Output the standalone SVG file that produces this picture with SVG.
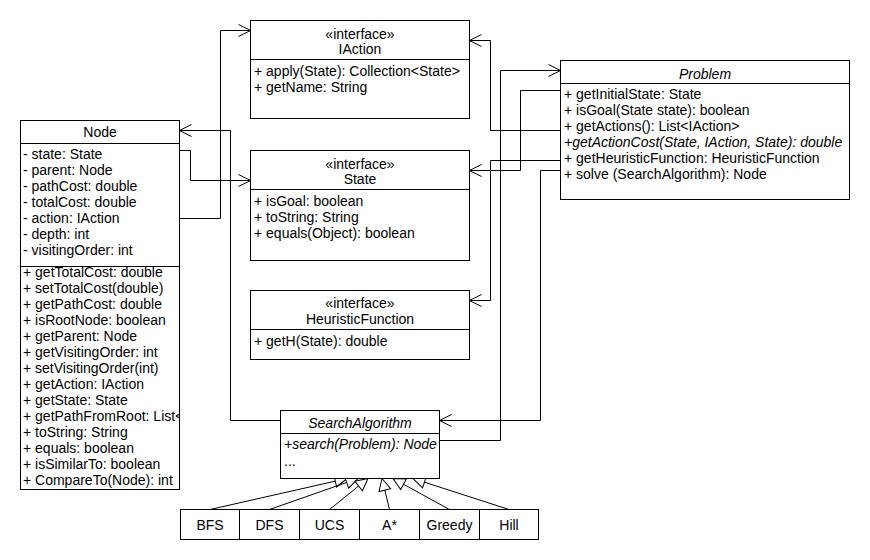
<svg xmlns="http://www.w3.org/2000/svg" width="870" height="560" viewBox="0 0 870 560">
<style>
text{font-family:"Liberation Sans",Arial,sans-serif;font-size:14px;fill:#000}
.c{text-anchor:middle}
.i{font-style:italic}
.box{fill:#fff;stroke:#000;stroke-width:1}
.ln{fill:none;stroke:#000;stroke-width:1}
</style>
<defs>
<marker id="open" viewBox="0 0 14 14" refX="13" refY="7" markerWidth="14" markerHeight="14" markerUnits="userSpaceOnUse" orient="auto"><path d="M1,1 L13,7 L1,13" fill="none" stroke="#000" stroke-width="1"/></marker>
<marker id="tri" viewBox="0 0 14 14" refX="13" refY="7" markerWidth="14" markerHeight="14" markerUnits="userSpaceOnUse" orient="auto"><path d="M1,1 L13,7 L1,13 Z" fill="#fff" stroke="#000" stroke-width="1"/></marker>
<clipPath id="nodeClip"><rect x="20" y="120" width="159" height="370"/></clipPath>
</defs>
<rect width="870" height="560" fill="#fff"/>

<g id="connectors">
<path class="ln" d="M179.5,218.5 H220.5 V30.5 H250.5" marker-end="url(#open)"/>
<path class="ln" d="M179.5,150.5 H190.5 V180.5 H250.5" marker-end="url(#open)"/>
<path class="ln" d="M280.5,420.5 H230.5 V130.5 H179.5" marker-end="url(#open)"/>
<path class="ln" d="M560.5,130.5 H490.5 V40.5 H469.5" marker-end="url(#open)"/>
<path class="ln" d="M560.5,90.5 H520.5 V170.5 H469.5" marker-end="url(#open)"/>
<path class="ln" d="M560.5,160.5 H490.5 V300.5 H469.5" marker-end="url(#open)"/>
<path class="ln" d="M560.5,170.5 H540.5 V420.5 H439.5" marker-end="url(#open)"/>
<path class="ln" d="M439.5,440.5 H500.5 V70.5 H560.5" marker-end="url(#open)"/>
<path class="ln" d="M210,509.5 L347,478.5" marker-end="url(#tri)"/>
<path class="ln" d="M269.5,509.5 L358,478.5" marker-end="url(#tri)"/>
<path class="ln" d="M329.5,509.5 L368,478.5" marker-end="url(#tri)"/>
<path class="ln" d="M389.5,509.5 L382,478.5" marker-end="url(#tri)"/>
<path class="ln" d="M449.5,509.5 L393,478.5" marker-end="url(#tri)"/>
<path class="ln" d="M509,509.5 L413,478.5" marker-end="url(#tri)"/>
</g>

<g id="node-Node">
<rect class="box" x="20.5" y="120.5" width="159" height="369"/>
<line class="ln" x1="20.5" y1="143.5" x2="179.5" y2="143.5"/>
<line class="ln" x1="20.5" y1="266.5" x2="179.5" y2="266.5"/>
<text class="c" x="100" y="136.5">Node</text>
<g clip-path="url(#nodeClip)">
<text x="23" y="159">- state: State</text>
<text x="23" y="175">- parent: Node</text>
<text x="23" y="191">- pathCost: double</text>
<text x="23" y="207">- totalCost: double</text>
<text x="23" y="223">- action: IAction</text>
<text x="23" y="239">- depth: int</text>
<text x="23" y="255">- visitingOrder: int</text>
<text x="23" y="277">+ getTotalCost: double</text>
<text x="23" y="293">+ setTotalCost(double)</text>
<text x="23" y="309">+ getPathCost: double</text>
<text x="23" y="325">+ isRootNode: boolean</text>
<text x="23" y="341">+ getParent: Node</text>
<text x="23" y="357">+ getVisitingOrder: int</text>
<text x="23" y="373">+ setVisitingOrder(int)</text>
<text x="23" y="389">+ getAction: IAction</text>
<text x="23" y="405">+ getState: State</text>
<text x="23" y="421">+ getPathFromRoot: List&lt;</text>
<text x="23" y="437">+ toString: String</text>
<text x="23" y="453">+ equals: boolean</text>
<text x="23" y="469">+ isSimilarTo: boolean</text>
<text x="23" y="485">+ CompareTo(Node): int</text>
</g>
</g>

<g id="node-IAction">
<rect class="box" x="250.5" y="20.5" width="219" height="98"/>
<line class="ln" x1="250.5" y1="59.5" x2="469.5" y2="59.5"/>
<text class="c" x="360" y="39">«interface»</text>
<text class="c" x="360" y="54">IAction</text>
<text x="254" y="76">+ apply(State): Collection&lt;State&gt;</text>
<text x="254" y="92">+ getName: String</text>
</g>

<g id="node-State">
<rect class="box" x="250.5" y="150.5" width="219" height="110"/>
<line class="ln" x1="250.5" y1="189.5" x2="469.5" y2="189.5"/>
<text class="c" x="360" y="169">«interface»</text>
<text class="c" x="360" y="184">State</text>
<text x="254" y="205.5">+ isGoal: boolean</text>
<text x="254" y="221.5">+ toString: String</text>
<text x="254" y="237.5">+ equals(Object): boolean</text>
</g>

<g id="node-HeuristicFunction">
<rect class="box" x="250.5" y="290.5" width="219" height="69"/>
<line class="ln" x1="250.5" y1="329.5" x2="469.5" y2="329.5"/>
<text class="c" x="360" y="308">«interface»</text>
<text class="c" x="360" y="324">HeuristicFunction</text>
<text x="254" y="345.5">+ getH(State): double</text>
</g>

<g id="node-Problem">
<rect class="box" x="560.5" y="60.5" width="289" height="139"/>
<line class="ln" x1="560.5" y1="83.5" x2="849.5" y2="83.5"/>
<text class="c i" x="705" y="79">Problem</text>
<text x="564" y="99">+ getInitialState: State</text>
<text x="564" y="115">+ isGoal(State state): boolean</text>
<text x="564" y="131">+ getActions(): List&lt;IAction&gt;</text>
<text class="i" x="564" y="147">+getActionCost(State, IAction, State): double</text>
<text x="564" y="163">+ getHeuristicFunction: HeuristicFunction</text>
<text x="564" y="179">+ solve (SearchAlgorithm): Node</text>
</g>

<g id="node-SearchAlgorithm">
<rect class="box" x="280.5" y="410.5" width="159" height="68"/>
<line class="ln" x1="280.5" y1="433.5" x2="439.5" y2="433.5"/>
<text class="c i" x="360" y="428">SearchAlgorithm</text>
<text class="i" x="284" y="449">+search(Problem): Node</text>
<text x="284" y="466">...</text>
</g>

<g id="node-BFS"><rect class="box" x="180.5" y="509.5" width="59" height="30"/><text class="c" x="210" y="529.5">BFS</text></g>
<g id="node-DFS"><rect class="box" x="239.5" y="509.5" width="60" height="30"/><text class="c" x="269.5" y="529.5">DFS</text></g>
<g id="node-UCS"><rect class="box" x="299.5" y="509.5" width="60" height="30"/><text class="c" x="329.5" y="529.5">UCS</text></g>
<g id="node-Astar"><rect class="box" x="359.5" y="509.5" width="60" height="30"/><text class="c" x="389.5" y="529.5">A*</text></g>
<g id="node-Greedy"><rect class="box" x="419.5" y="509.5" width="60" height="30"/><text class="c" x="449.5" y="529.5">Greedy</text></g>
<g id="node-Hill"><rect class="box" x="479.5" y="509.5" width="59" height="30"/><text class="c" x="509" y="529.5">Hill</text></g>
</svg>
